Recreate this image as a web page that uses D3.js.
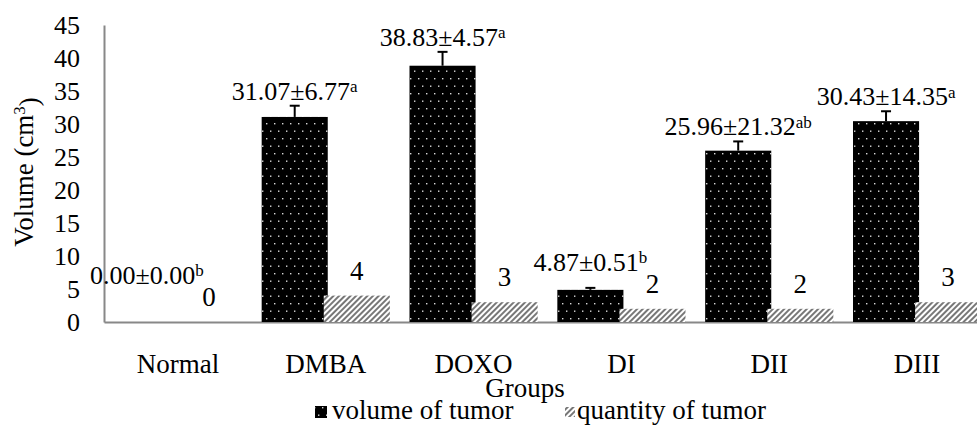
<!DOCTYPE html>
<html>
<head>
<meta charset="utf-8">
<script src="https://cdn.jsdelivr.net/npm/d3@7"></script>
<style>
  html, body { margin: 0; padding: 0; background: #fff; }
</style>
</head>
<body>
<div id="chart"></div>
<script>
// chart data
const groups = ["Normal", "DMBA", "DOXO", "DI", "DII", "DIII"];
const volumeMean = [0.00, 31.07, 38.83, 4.87, 25.96, 30.43];
const volumeSD = ["0.00", "6.77", "4.57", "0.51", "21.32", "14.35"];
const volumeErr = [0, 1.7, 2.1, 0.3, 1.4, 1.5]; // drawn error bar length
const significance = ["b", "a", "a", "b", "ab", "a"];
const tumorQuantity = [0, 4, 3, 2, 2, 3];
const yTicks = [0, 5, 10, 15, 20, 25, 30, 35, 40, 45];

const FONT = "'Liberation Serif', 'Times New Roman', serif";
const width = 977;
const height = 426;
const axisColor = "#888888";

// one row per group, built from the arrays above
const rows = groups.map((g, i) => ({
    group: g,
    mean: volumeMean[i],
    sd: volumeSD[i],
    err: volumeErr[i],
    sig: significance[i],
    qty: tumorQuantity[i],
}));

const svg = d3.select("#chart")
    .append("svg")
    .attr("width", width)
    .attr("height", height)
    .style("font-family", FONT);

// patterns: black with white dots, and diagonal hatch
const defs = svg.append("defs");
const dots = defs.append("pattern")
    .attr("id", "dots")
    .attr("patternUnits", "userSpaceOnUse")
    .attr("width", 8)
    .attr("height", 15);
dots.append("rect").attr("width", 8).attr("height", 15).attr("fill", "#000");
dots.append("rect").attr("x", 2).attr("y", 3).attr("width", 1.4).attr("height", 1.4).attr("fill", "#d8d8d8");
dots.append("rect").attr("x", 6).attr("y", 10.5).attr("width", 1.4).attr("height", 1.4).attr("fill", "#d8d8d8");

const hatch = defs.append("pattern")
    .attr("id", "hatch")
    .attr("patternUnits", "userSpaceOnUse")
    .attr("width", 4)
    .attr("height", 4)
    .attr("patternTransform", "rotate(45)");
hatch.append("rect").attr("width", 4).attr("height", 4).attr("fill", "#fff");
hatch.append("line")
    .attr("x1", 1).attr("y1", 0).attr("x2", 1).attr("y2", 4)
    .attr("stroke", "#555").attr("stroke-width", 1.6);

// scales
const x = d3.scaleBand()
    .domain(groups)
    .range([104, 991])
    .padding(0);

const y = d3.scaleLinear()
    .domain([0, 45])
    .range([322, 25]);

const step = x.bandwidth();
const barW = step * 0.447;
const center = (g) => x(g) + step / 2;
const volX = (d) => center(d.group) - barW + 2;
const volMid = (d) => volX(d) + barW / 2;
const qtyX = (d) => center(d.group) - 2;

// y axis
const yAxis = svg.append("g")
    .attr("transform", "translate(104,0)")
    .call(d3.axisLeft(y).tickValues(yTicks).tickSize(0).tickPadding(24))
    .attr("font-family", FONT)
    .attr("font-size", 26);
yAxis.select(".domain").attr("stroke", axisColor).attr("stroke-width", 2);
yAxis.selectAll("text").attr("fill", "#000");

// x axis
const xAxis = svg.append("g")
    .attr("transform", "translate(0,322)")
    .call(d3.axisBottom(x).tickSize(0).tickPadding(32))
    .attr("font-family", FONT)
    .attr("font-size", 27);
xAxis.select(".domain").attr("stroke", axisColor).attr("stroke-width", 2);
xAxis.selectAll("text").attr("fill", "#000");

// volume bars
svg.selectAll(".vol")
    .data(rows)
    .enter().append("rect")
    .attr("class", "vol")
    .attr("x", volX)
    .attr("y", (d) => y(d.mean))
    .attr("width", barW)
    .attr("height", (d) => y(0) - y(d.mean))
    .attr("fill", "url(#dots)");

// quantity bars (drawn over)
svg.selectAll(".qty")
    .data(rows)
    .enter().append("rect")
    .attr("class", "qty")
    .attr("x", qtyX)
    .attr("y", (d) => y(d.qty))
    .attr("width", barW)
    .attr("height", (d) => y(0) - y(d.qty))
    .attr("fill", "url(#hatch)");

// error bars (upper only)
const err = svg.selectAll(".err")
    .data(rows.filter((d) => d.err > 0))
    .enter().append("g")
    .attr("class", "err")
    .attr("stroke", "#000")
    .attr("stroke-width", 2);
err.append("line")
    .attr("x1", volMid)
    .attr("x2", volMid)
    .attr("y1", (d) => y(d.mean))
    .attr("y2", (d) => y(d.mean + d.err));
err.append("line")
    .attr("x1", (d) => volMid(d) - 5)
    .attr("x2", (d) => volMid(d) + 5)
    .attr("y1", (d) => y(d.mean + d.err))
    .attr("y2", (d) => y(d.mean + d.err));

// quantity labels
const qtyBase = (d) => y(d.qty) - 16;
svg.selectAll(".qtyLabel")
    .data(rows)
    .enter().append("text")
    .attr("class", "qtyLabel")
    .attr("x", (d) => qtyX(d) + barW / 2)
    .attr("y", qtyBase)
    .attr("text-anchor", "middle")
    .style("font-size", "27px")
    .text((d) => d.qty);

// volume labels, kept clear of the quantity label
const volLabel = svg.selectAll(".volLabel")
    .data(rows)
    .enter().append("text")
    .attr("class", "volLabel")
    .attr("x", volMid)
    .attr("y", (d) => Math.min(y(d.mean + d.err) - 6, qtyBase(d) - 22))
    .attr("text-anchor", "middle")
    .style("font-size", "26px");
volLabel.append("tspan")
    .text((d) => `${d.mean.toFixed(2)}±${d.sd}`);
volLabel.append("tspan")
    .attr("dy", "-0.45em")
    .style("font-size", "17px")
    .text((d) => d.sig);

// axis titles
const yTitle = svg.append("text")
    .attr("transform", "translate(33,172) rotate(-90)")
    .attr("text-anchor", "middle")
    .style("font-size", "27px");
yTitle.append("tspan").text("Volume (cm");
yTitle.append("tspan").attr("dy", "-0.45em").style("font-size", "17px").text("3");
yTitle.append("tspan").attr("dy", "0.45em").text(")");

svg.append("text")
    .attr("x", 525)
    .attr("y", 397)
    .attr("text-anchor", "middle")
    .style("font-size", "27px")
    .text("Groups");

// legend
const legend = svg.append("g").attr("transform", "translate(0,419)");
legend.append("rect")
    .attr("x", 315).attr("y", -13)
    .attr("width", 12).attr("height", 12)
    .attr("fill", "url(#dots)");
legend.append("text")
    .attr("x", 332).attr("y", 0)
    .style("font-size", "27px")
    .text("volume of tumor");
legend.append("rect")
    .attr("x", 565).attr("y", -12)
    .attr("width", 10).attr("height", 10)
    .attr("fill", "url(#hatch)");
legend.append("text")
    .attr("x", 577).attr("y", 0)
    .style("font-size", "27px")
    .text("quantity of tumor");
</script>
</body>
</html>
